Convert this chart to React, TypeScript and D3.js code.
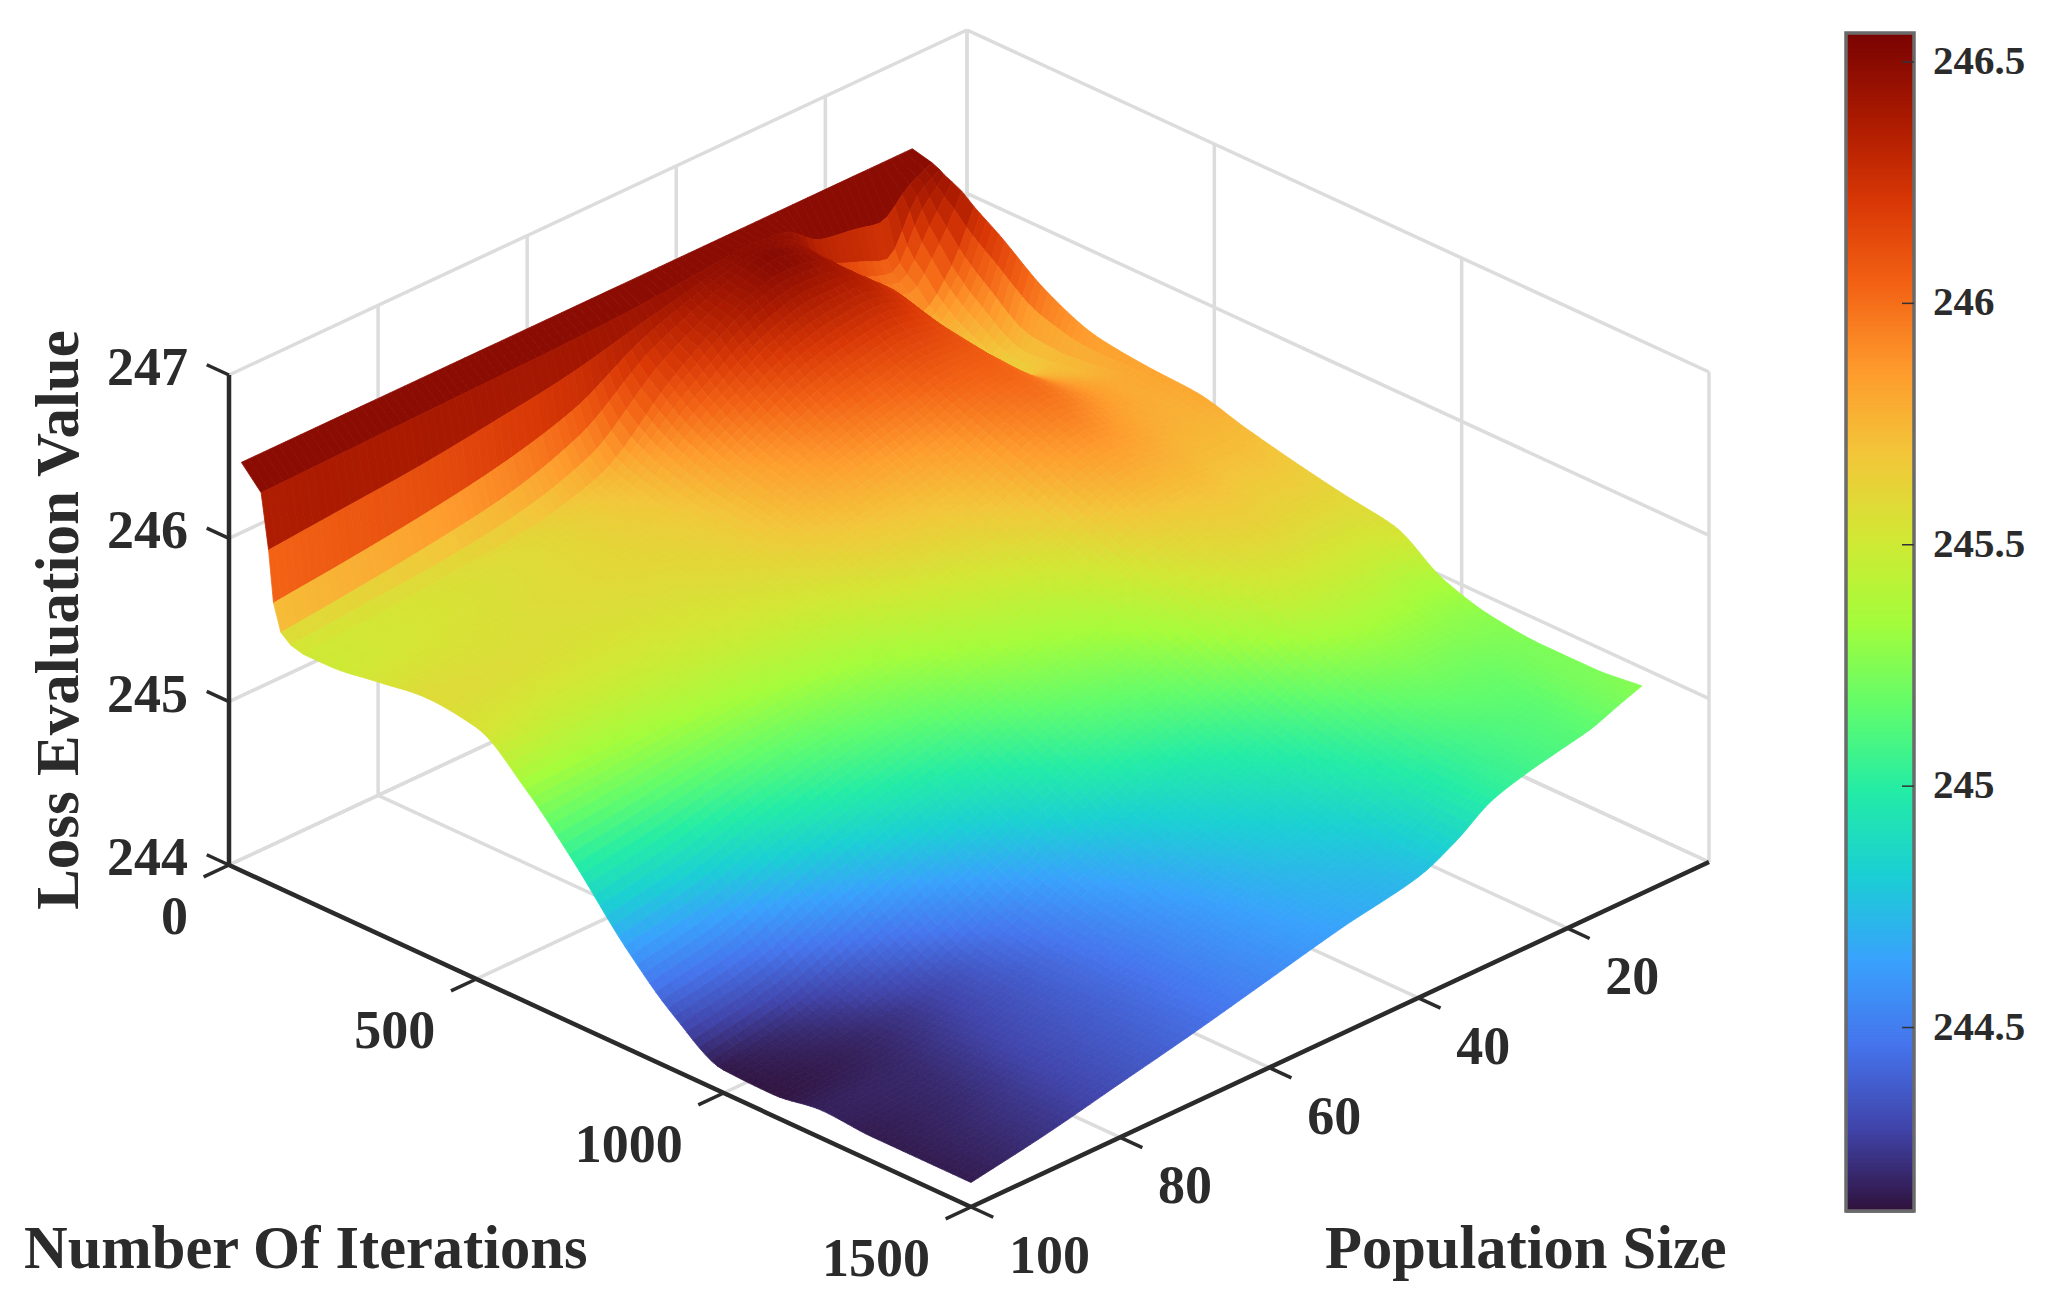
import React, { useRef, useEffect } from "react";
import * as d3 from "d3";

// grid
const iterations = [25, 65, 80, 90, 105, 125, 150, 200, 300, 400, 500, 600, 700, 800, 900, 1000, 1100, 1200, 1300, 1400, 1500];
const populations = [10, 13, 17, 20, 25, 30, 35, 40, 50, 60, 70, 80, 90, 100];

const lossPop10 = [246.5, 246.47, 246.45, 246.43, 246.41, 246.38, 246.32, 246.22, 246.0, 245.87, 245.83, 245.81, 245.73, 245.66, 245.6, 245.55, 245.36, 245.27, 245.24, 245.24, 245.27];
const lossPop13 = [246.5, 246.4, 246.35, 246.28, 246.2, 246.12, 246.02, 245.88, 245.7, 245.74, 245.8, 245.78, 245.74, 245.68, 245.6, 245.5, 245.34, 245.26, 245.22, 245.22, 245.22];
const lossPop17 = [246.5, 246.25, 246.05, 245.98, 245.94, 245.9, 245.82, 245.72, 245.63, 245.78, 245.84, 245.8, 245.74, 245.67, 245.6, 245.5, 245.36, 245.25, 245.18, 245.15, 245.15];
const lossPop20 = [246.5, 246.28, 246.1, 246.02, 246.0, 245.96, 245.9, 245.8, 245.72, 245.86, 245.9, 245.84, 245.77, 245.69, 245.61, 245.5, 245.36, 245.25, 245.17, 245.13, 245.12];
const lossPop25 = [246.5, 246.32, 246.2, 246.16, 246.14, 246.12, 246.15, 246.22, 246.14, 246.06, 246.0, 245.9, 245.78, 245.66, 245.58, 245.48, 245.33, 245.21, 245.13, 245.08, 245.07];
const lossPop30 = [246.5, 246.47, 246.45, 246.44, 246.44, 246.43, 246.42, 246.36, 246.18, 246.05, 245.95, 245.84, 245.72, 245.6, 245.5, 245.38, 245.24, 245.12, 245.04, 245.0, 245.0];
const lossPop35 = [246.5, 246.49, 246.5, 246.5, 246.51, 246.5, 246.47, 246.36, 246.14, 245.98, 245.84, 245.72, 245.6, 245.49, 245.38, 245.26, 245.12, 245.02, 244.95, 244.88, 244.85];
const lossPop40 = [246.5, 246.47, 246.46, 246.45, 246.44, 246.43, 246.42, 246.3, 246.08, 245.92, 245.76, 245.64, 245.52, 245.4, 245.28, 245.16, 245.03, 244.93, 244.85, 244.78, 244.74];
const lossPop50 = [246.5, 246.43, 246.36, 246.3, 246.25, 246.2, 246.15, 246.03, 245.87, 245.78, 245.67, 245.55, 245.42, 245.29, 245.16, 245.03, 244.87, 244.78, 244.72, 244.68, 244.65];
const lossPop60 = [246.5, 246.41, 246.25, 246.05, 245.92, 245.82, 245.75, 245.7, 245.65, 245.62, 245.56, 245.45, 245.3, 245.15, 244.98, 244.82, 244.68, 244.6, 244.56, 244.55, 244.54];
const lossPop70 = [246.5, 246.4, 246.18, 245.92, 245.76, 245.67, 245.62, 245.6, 245.6, 245.57, 245.52, 245.4, 245.22, 245.04, 244.82, 244.6, 244.45, 244.41, 244.41, 244.42, 244.43];
const lossPop80 = [246.5, 246.39, 246.12, 245.84, 245.68, 245.6, 245.57, 245.56, 245.57, 245.56, 245.5, 245.36, 245.14, 244.9, 244.62, 244.38, 244.27, 244.29, 244.31, 244.32, 244.33];
const lossPop90 = [246.5, 246.38, 246.08, 245.78, 245.62, 245.56, 245.53, 245.53, 245.55, 245.57, 245.5, 245.32, 245.05, 244.72, 244.42, 244.22, 244.17, 244.19, 244.2, 244.22, 244.23];
const lossPop100 = [246.5, 246.37, 246.04, 245.73, 245.57, 245.52, 245.5, 245.5, 245.54, 245.58, 245.54, 245.3, 244.98, 244.62, 244.33, 244.14, 244.13, 244.17, 244.15, 244.15, 244.15];
const lossRows = [lossPop10, lossPop13, lossPop17, lossPop20, lossPop25, lossPop30, lossPop35, lossPop40, lossPop50, lossPop60, lossPop70, lossPop80, lossPop90, lossPop100];

const iterTicks = [0, 500, 1000, 1500];
const popTicks = [20, 40, 60, 80, 100];
const lossTicks = [244, 245, 246, 247];
const barTicks = [244.5, 245, 245.5, 246, 246.5];
const barTickLabels = ["244.5", "245", "245.5", "246", "246.5"];
const barRange = [244.12, 246.56];
const turbo = ["#30123b", "#4145ab", "#4675ed", "#39a2fc", "#1bcfd4", "#24eca6", "#61fc6c", "#a4fc3b", "#d1e834", "#f3c63a", "#fe9b2d", "#f36315", "#d93806", "#aa1a01", "#7a0403"];

const font = "'Liberation Serif', serif";
const inkColor = "#2b2b2b";
const gridColor = "#dcdcdc";

// shape preserving cubic through the knots, only used to shade between grid lines
function smooth(xs: number[], ys: number[]) {
    const n = xs.length;
    const h = d3.range(n - 1).map((i) => xs[i + 1] - xs[i]);
    const s = h.map((w, i) => (ys[i + 1] - ys[i]) / w);
    const m = xs.map((_, i) => {
        if (i === 0) return s[0];
        if (i === n - 1) return s[n - 2];
        if (s[i - 1] * s[i] <= 0) return 0;
        return (2 * s[i - 1] * s[i]) / (s[i - 1] + s[i]);
    });
    return (x: number) => {
        const i = Math.max(0, Math.min(n - 2, d3.bisectRight(xs, x) - 1));
        const t = (x - xs[i]) / h[i];
        return (
            (2 * t ** 3 - 3 * t ** 2 + 1) * ys[i] +
            (t ** 3 - 2 * t ** 2 + t) * h[i] * m[i] +
            (-2 * t ** 3 + 3 * t ** 2) * ys[i + 1] +
            (t ** 3 - t ** 2) * h[i] * m[i + 1]
        );
    };
}

export default function App() {
    const ref = useRef<SVGSVGElement | null>(null);

    useEffect(() => {
        const svg = d3.select(ref.current);
        svg.selectAll("*").remove();

        const iterT = d3.scaleLinear([0, 1500], [0, 1]);
        const popT = d3.scaleLinear([100, 1], [0, 1]);
        const zPx = d3.scaleLinear([244, 247], [0, 490]);
        const px = (it: number, p: number) => 229 + iterT(it) * 742 + popT(p) * 738;
        const py = (it: number, p: number, z: number) => 865 + iterT(it) * 342 - popT(p) * 345 - zPx(z);

        const color = d3
            .scaleLinear<string>()
            .domain(turbo.map((_, i) => barRange[0] + (i / (turbo.length - 1)) * (barRange[1] - barRange[0])))
            .range(turbo)
            .clamp(true);

        const line = (a: number[], b: number[], stroke: string, width: number) =>
            svg
                .append("line")
                .attr("x1", px(a[0], a[1]))
                .attr("y1", py(a[0], a[1], a[2]))
                .attr("x2", px(b[0], b[1]))
                .attr("y2", py(b[0], b[1], b[2]))
                .attr("stroke", stroke)
                .attr("stroke-width", width);

        // walls and floor
        const popLines = [1, ...popTicks];
        popLines.forEach((p) => {
            line([0, p, 244], [0, p, 247], gridColor, 3.5);
            line([0, p, 244], [1500, p, 244], gridColor, 3.5);
        });
        iterTicks.forEach((it) => {
            line([it, 1, 244], [it, 1, 247], gridColor, 3.5);
            line([it, 1, 244], [it, 100, 244], gridColor, 3.5);
        });
        lossTicks.forEach((z) => {
            line([0, 100, z], [0, 1, z], gridColor, 3.5);
            line([0, 1, z], [1500, 1, z], gridColor, 3.5);
        });

        // fine columns: first ones stay flat like the steps in the picture
        const fineIter: number[] = [];
        iterations.forEach((it, i) => {
            fineIter.push(it);
            if (it < 150 || i === iterations.length - 1) return;
            const next = iterations[i + 1];
            const steps = Math.round((next - it) / 12.5);
            for (let k = 1; k < steps; k++) fineIter.push(it + ((next - it) * k) / steps);
        });
        const finePop = d3.range(10, 101);
        const rowFns = lossRows.map((r) => smooth(iterations, r));
        const fine = fineIter.map((it) => {
            const f = smooth(populations, rowFns.map((fn) => fn(it)));
            return finePop.map((p) => f(p));
        });

        const cells: { d: string; c: string }[] = [];
        for (let i = 0; i < fineIter.length - 1; i++) {
            for (let j = 0; j < finePop.length - 1; j++) {
                const a = fineIter[i];
                const b = fineIter[i + 1];
                const p = finePop[j];
                const q = finePop[j + 1];
                const path = d3.path();
                path.moveTo(px(a, p), py(a, p, fine[i][j]));
                path.lineTo(px(b, p), py(b, p, fine[i + 1][j]));
                path.lineTo(px(b, q), py(b, q, fine[i + 1][j + 1]));
                path.lineTo(px(a, q), py(a, q, fine[i][j + 1]));
                path.closePath();
                cells.push({ d: path.toString(), c: color((fine[i][j] + fine[i][j + 1]) / 2) });
            }
        }
        svg.append("g")
            .selectAll("path")
            .data(cells)
            .join("path")
            .attr("d", (d) => d.d)
            .attr("fill", (d) => d.c)
            .attr("stroke", (d) => d.c)
            .attr("stroke-width", 0.8);

        // axes
        line([0, 100, 244], [0, 100, 247], inkColor, 4.5);
        line([0, 100, 244], [1500, 100, 244], inkColor, 4.5);
        line([1500, 100, 244], [1500, 1, 244], inkColor, 4.5);

        const label = (x: number, y: number, t: string, anchor: string, size = 54) =>
            svg
                .append("text")
                .attr("x", x)
                .attr("y", y)
                .attr("text-anchor", anchor)
                .attr("font-family", font)
                .attr("font-weight", "bold")
                .attr("font-size", size)
                .attr("fill", inkColor)
                .text(t);

        lossTicks.forEach((z) => {
            line([0, 100, z], [-45, 100, z], inkColor, 3.5);
            label(188, py(0, 100, z) + 10, String(z), "end");
        });
        iterTicks.forEach((it) => {
            line([it, 100, 244], [it, 103.4, 244], inkColor, 3.5);
            label(px(it, 100) - 41, py(it, 100, 244) + 69, String(it), "end");
        });
        popTicks.forEach((p) => {
            line([1500, p, 244], [1545, p, 244], inkColor, 3.5);
            label(px(1500, p) + 38, py(1500, p, 244) + 66, String(p), "start");
        });

        label(24, 1268, "Number Of Iterations", "start", 60.5);
        label(1325, 1268, "Population Size", "start", 60.5);
        label(0, 0, "Loss Evaluation Value", "middle", 61).attr("transform", "translate(78,620) rotate(-90)");

        // colour bar
        const barY = d3.scaleLinear(barRange, [1211, 33]);
        const bar = svg.append("g");
        d3.range(barRange[0], barRange[1], 0.0025).forEach((v) => {
            bar.append("rect")
                .attr("x", 1846)
                .attr("y", barY(v) - 1)
                .attr("width", 68)
                .attr("height", 2.5)
                .attr("fill", color(v));
        });
        bar.append("rect")
            .attr("x", 1846)
            .attr("y", 33)
            .attr("width", 68)
            .attr("height", 1178)
            .attr("fill", "none")
            .attr("stroke", "#6a6a6a")
            .attr("stroke-width", 3.5);
        barTicks.forEach((v, i) => {
            bar.append("line")
                .attr("x1", 1902)
                .attr("x2", 1914)
                .attr("y1", barY(v))
                .attr("y2", barY(v))
                .attr("stroke", "#333")
                .attr("stroke-width", 1.5);
            label(1933, barY(v) + 12, barTickLabels[i], "start", 41);
        });
    }, []);

    return <svg ref={ref} width={2051} height={1310} style={{ position: "absolute", left: 0, top: 0, background: "#fff" }}></svg>;
}
